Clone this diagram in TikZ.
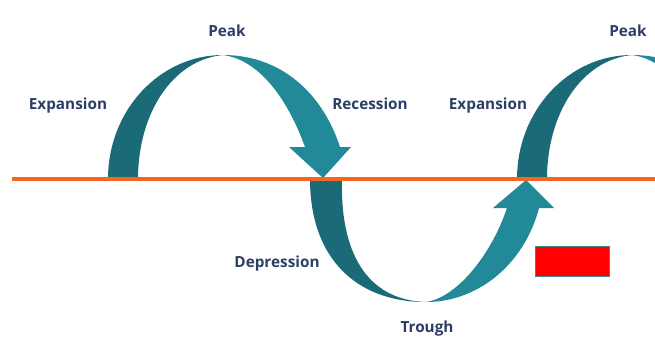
\documentclass[tikz,border=0pt]{standalone}
\usepackage{fontspec}
\setmainfont{Open Sans}
\usepackage{xcolor}
\usepackage{tikz}
\usetikzlibrary{positioning}

\definecolor{tealdark}{RGB}{26,106,119}
\definecolor{teallight}{RGB}{33,137,151}
\definecolor{cycleline}{RGB}{245,102,30}
\definecolor{labelnavy}{RGB}{45,62,102}

\tikzset{
  darkpart/.style={fill=tealdark, draw=none},
  lightpart/.style={fill=teallight, draw=none},
  phase/.style={font=\bfseries\fontsize{15.3}{17}\selectfont, text=labelnavy, inner sep=0pt}
}

\begin{document}
\begin{tikzpicture}[x=1pt, y=-1pt]
  \useasboundingbox (0,0) rectangle (655,341);
  \clip (0,0) rectangle (655,341);

  % peaks (second one shifted right)
  \foreach \dx in {0,409} {
    \begin{scope}[xshift=\dx pt]
      \fill[darkpart] (108,179) .. controls (108,110) and (160,55) .. (223,55)
        .. controls (172,60) and (138,114) .. (138,179) -- cycle;
      \fill[lightpart] (223,55) .. controls (280,55) and (322,92) .. (340,147)
        -- (351,147) -- (323,178) -- (289,147) -- (305,147)
        .. controls (288,100) and (260,60) .. (223,55) -- cycle;
    \end{scope}
  }

  % trough
  \fill[darkpart] (310,179) .. controls (310,258) and (356,302) .. (426,302)
    .. controls (365,300) and (340,250) .. (342,179) -- cycle;
  \fill[lightpart] (426,302) .. controls (480,302) and (525,262) .. (539,208)
    -- (554,208) -- (526,180) -- (493,208) -- (507,208)
    .. controls (490,258) and (455,298) .. (426,302) -- cycle;

  % axis
  \coordinate (axisL) at (12,179);
  \coordinate (axisR) at (655,179);
  \draw[cycleline, line width=4pt] (axisL) -- (axisR);

  \node[fill=red, draw=teallight!60!gray, line width=0.8pt, minimum width=74pt,
    minimum height=30pt, inner sep=0pt] (marker) at (572,261) {};

  \node[phase] (peakA) at (227,31) {Peak};
  \node[phase] (expA) at (68,105.5) {Expansion};
  \node[phase] (rec) at (370,104) {Recession};
  \node[phase] (expB) at (488,105.5) {Expansion};
  \node[phase] (dep) at (277,263.5) {Depression};
  \node[phase] (trough) at (427,328.5) {Trough};
  \node[phase] (peakB) at (628,31) {Peak};
\end{tikzpicture}
\end{document}
